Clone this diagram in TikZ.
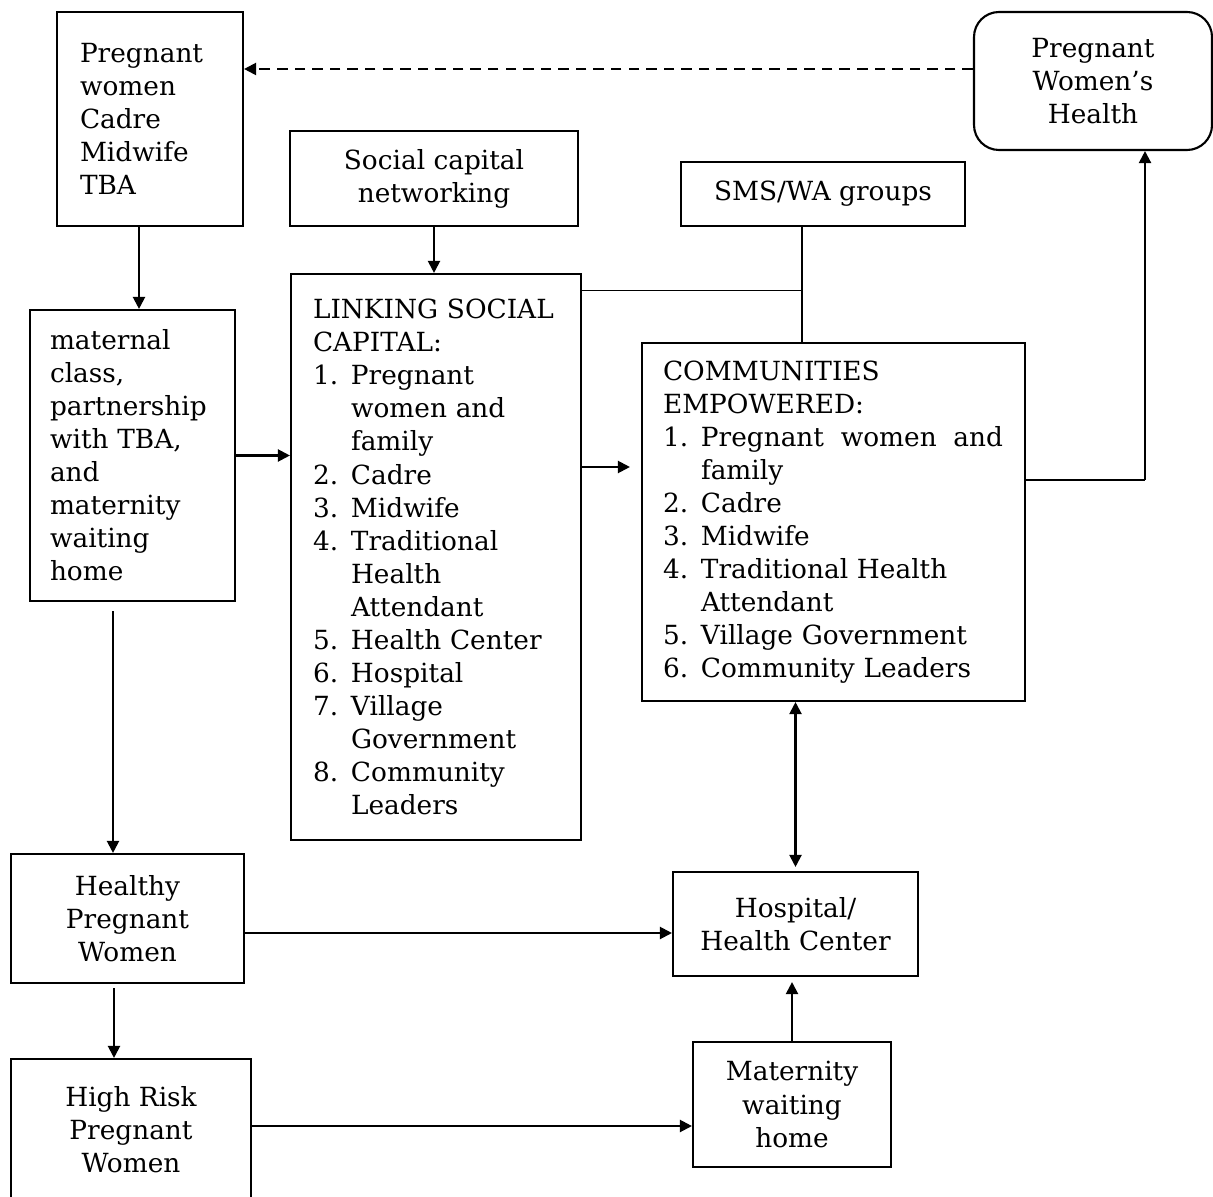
\documentclass[tikz,border=0pt]{standalone}
\usepackage{fontspec}
\setmainfont{DejaVu Serif}
\usetikzlibrary{arrows.meta,positioning}
\newcommand{\Num}[2]{\makebox[0.76cm][l]{#1}#2}
\newcommand{\Cont}[1]{\hspace*{0.76cm}#1}

\begin{document}
\begin{tikzpicture}[font=\fontsize{15}{18.8}\selectfont, >={Triangle[length=0.24cm,width=0.24cm]}, box/.style={draw,line width=1.2pt,rectangle,inner sep=0pt}, listbox/.style={box,align=left}, midbox/.style={box,align=center}, conn/.style={line width=1.2pt,->}, thinline/.style={line width=0.6pt}]
          \useasboundingbox (0,0) rectangle (24.26,23.92);
          \node[listbox,text width=2.8cm,inner xsep=0.46cm,minimum height=4.28cm] (pw) at (3.00, 21.54) {Pregnant \\ women \\ Cadre \\ Midwife \\ TBA};
          \node[midbox,minimum width=5.76cm,minimum height=1.90cm] (social) at (8.68, 20.35) {Social capital \\ networking};
          \node[midbox,minimum width=5.68cm,minimum height=1.28cm] (sms) at (16.46, 20.04) {SMS/WA groups};
          \node[midbox,rounded corners=0.5cm,minimum width=4.76cm,minimum height=2.76cm] (pwh) at (21.86, 22.30) {Pregnant \\ Women's \\ Health};
          \node[listbox,text width=3.3cm,inner xsep=0.4cm,minimum height=5.82cm] (maternal) at (2.65, 14.81) {maternal \\ class, \\ partnership \\ with TBA, \\ and \\ maternity \\ waiting \\ home};
          \node[listbox,text width=4.92cm,inner xsep=0.44cm,minimum height=11.32cm] (linking) at (8.72, 12.78) {LINKING SOCIAL \\ CAPITAL: \\ \Num{1.}{Pregnant} \\ \Cont{women and} \\ \Cont{family} \\ \Num{2.}{Cadre} \\ \Num{3.}{Midwife} \\ \Num{4.}{Traditional} \\ \Cont{Health} \\ \Cont{Attendant} \\ \Num{5.}{Health Center} \\ \Num{6.}{Hospital} \\ \Num{7.}{Village} \\ \Cont{Government} \\ \Num{8.}{Community} \\ \Cont{Leaders}};
          \node[listbox,text width=6.82cm,inner xsep=0.42cm,minimum height=7.16cm] (comm) at (16.67, 13.48) {COMMUNITIES \\ EMPOWERED: \\ \Num{1.}{\hbox to 6.04cm{Pregnant\hfil women\hfil and}} \\ \Cont{family} \\ \Num{2.}{Cadre} \\ \Num{3.}{Midwife} \\ \Num{4.}{Traditional Health} \\ \Cont{Attendant} \\ \Num{5.}{Village Government} \\ \Num{6.}{Community Leaders}};
          \node[midbox,minimum width=4.66cm,minimum height=2.58cm] (healthy) at (2.55, 5.55) {Healthy \\ Pregnant \\ Women};
          \node[midbox,minimum width=4.90cm,minimum height=2.08cm] (hospital) at (15.91, 5.44) {Hospital/ \\ Health Center};
          \node[midbox,minimum width=4.80cm,minimum height=2.84cm] (highrisk) at (2.62, 1.32) {High Risk \\ Pregnant \\ Women};
          \node[midbox,minimum width=3.96cm,minimum height=2.50cm] (mwh) at (15.84, 1.83) {Maternity \\ waiting \\ home};
          \path ([yshift=0.24cm]pwh.west) coordinate (d1) ([xshift=-0.22cm]pw.south) coordinate (a1) ([yshift=1.8cm]linking.east) coordinate (l2) ([yshift=-0.36cm]linking.north east) coordinate (l1) ([xshift=-0.42cm]sms.south) coordinate (s1) ([yshift=0.84cm]comm.east) coordinate (c1) ([xshift=1.04cm]pwh.south) coordinate (p1) ([xshift=-0.39cm]maternal.south) coordinate (m1) ([yshift=-0.29cm]healthy.east) coordinate (h1) ([xshift=-0.27cm]healthy.south) coordinate (h2) ([yshift=0.08cm]highrisk.east) coordinate (r1);
          \draw[conn,dash pattern=on 6pt off 4pt] (d1) -- (d1 -| pw.east);
          \draw[conn] (a1) -- (a1 |- maternal.north);
          \draw[conn] (social.south) -- (social.south |- linking.north);
          \draw[conn] (maternal.east) -- (maternal.east -| linking.west);
          \draw[conn,shorten >=0.22cm] (l2) -- (l2 -| comm.west);
          \draw[thinline] (l1) -- (l1 -| s1);
          \draw[thinline] (s1) -- (s1 |- comm.north);
          \draw[thinline] (c1) -- (c1 -| p1);
          \draw[conn] (c1 -| p1) -- (p1);
          \draw[conn,<->,shorten >=0.08cm] (hospital.north |- comm.south) -- (hospital.north);
          \draw[conn,shorten <=0.18cm] (m1) -- (m1 |- healthy.north);
          \draw[conn] (h1) -- (h1 -| hospital.west);
          \draw[conn,shorten <=0.08cm] (h2) -- (h2 |- highrisk.north);
          \draw[conn] (r1) -- (r1 -| mwh.west);
          \draw[conn,shorten >=0.1cm] (mwh.north) -- (mwh.north |- hospital.south);
  \end{tikzpicture}
\end{document}
